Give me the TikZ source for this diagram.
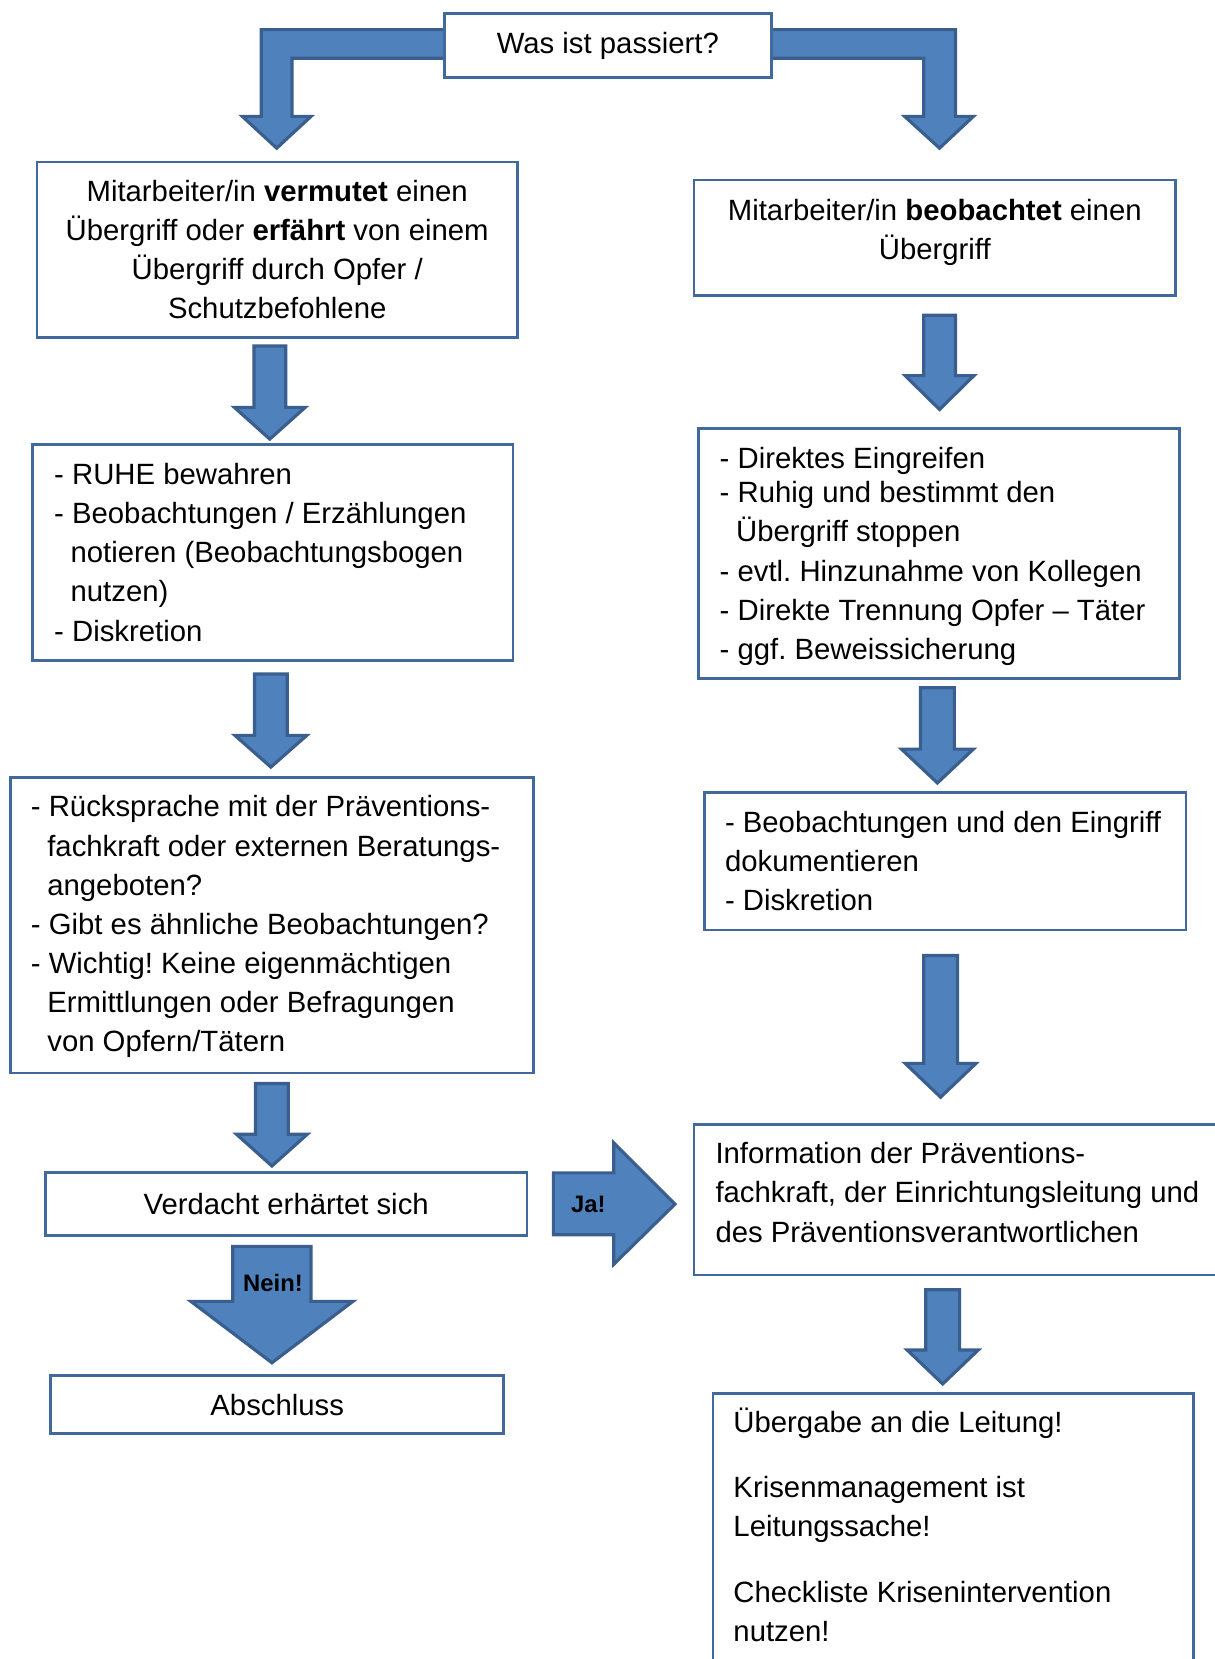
\documentclass[tikz,border=0pt]{standalone}
\usepackage{fontspec}
\setmainfont{Liberation Sans}
\frenchspacing
\definecolor{arrfill}{HTML}{4F81BD}
\definecolor{arrdraw}{HTML}{3A5F8F}
\definecolor{boxc}{HTML}{41699C}
\newcommand\mainfs{\fontsize{11.08}{14.8}\selectfont\frenchspacing}
\newcommand\ind{\hspace*{6.2pt}}
\newcommand\dnarr[6]{% cx, top, head, tip, halfshaft, halfhead
  \draw[blockarrow] ({#1-#5},#2) -- ({#1+#5},#2) -- ({#1+#5},#3) -- ({#1+#6},#3) -- (#1,#4) -- ({#1-#6},#3) -- ({#1-#5},#3) -- cycle;}
\newcommand\frameat[6]{% name, x1,y1,x2,y2, text
  \pgfmathsetmacro\bw{(#4-#2)*0.4}\pgfmathsetmacro\bh{(#5-#3)*0.4}%
  \node[box,minimum width=\bw pt,minimum height=\bh pt] (#1) at ({(#2+#4)/2},{(#3+#5)/2}) {#6};}
\begin{document}
\begin{tikzpicture}[x=0.4pt,y=-0.4pt,
  box/.style={draw=boxc,line width=1pt,fill=white,font=\mainfs,align=center,inner sep=0pt},
  txt/.style={font=\mainfs,align=left,inner sep=0pt},
  blockarrow/.style={fill=arrfill,draw=arrdraw,line width=1.2pt,line join=miter},
  lab/.style={font=\fontsize{9}{10}\selectfont\bfseries,inner sep=0pt}]
\useasboundingbox (0,0) rectangle (1148,1568);

% bent arrows from the top box
\draw[blockarrow] (430,28) -- (247,28) -- (247,110) -- (229,110) -- (261.5,140) -- (294,110) -- (276,110) -- (276,55) -- (430,55) -- cycle;
\draw[blockarrow] (720,28) -- (903,28) -- (903,110) -- (920,110) -- (888,140) -- (855,110) -- (873,110) -- (873,55) -- (720,55) -- cycle;
\frameat{top}{420}{13}{729}{73}{Was ist passiert?}

% left column
\frameat{l1}{35}{153}{489}{319}{Mitarbeiter/in \textbf{vermutet} einen\\ Übergriff oder \textbf{erfährt} von einem\\ Übergriff durch Opfer /\\ Schutzbefohlene}
\dnarr{255}{327}{385}{415}{15}{33.5}
\frameat{l2}{31}{420}{485}{624}{}
\node[txt,anchor=west] (l2t) at ([xshift=8.4pt]l2.west) {- RUHE bewahren\\- Beobachtungen / Erzählungen\\\ind notieren (Beobachtungsbogen\\\ind nutzen)\\- Diskretion};
\dnarr{256}{637}{695}{725}{15.5}{34}
\frameat{l3}{10}{735}{504}{1014}{}
\node[txt,anchor=west] (l3t) at ([xshift=8pt,yshift=-0.6pt]l3.west) {- Rücksprache mit der Präventions-\\\ind fachkraft oder externen Beratungs-\\\ind angeboten?\\- Gibt es ähnliche Beobachtungen?\\- Wichtig! Keine eigenmächtigen\\\ind Ermittlungen oder Befragungen\\\ind von Opfern/Tätern};
\dnarr{257}{1024}{1072}{1102}{15.5}{33.5}
\frameat{l4}{43}{1108}{498}{1168}{Verdacht erhärtet sich}
\dnarr{257}{1178}{1230}{1288}{37}{76.5}
\node[lab] (nein) at (258,1213) {Nein!};
\frameat{l5}{48}{1300}{476}{1355}{Abschluss}

% Ja arrow
\draw[blockarrow] (523,1108.5) -- (580,1108.5) -- (580,1080) -- (638,1138) -- (580,1195) -- (580,1167) -- (523,1167) -- cycle;
\node[lab] (ja) at (556,1138) {Ja!};

% right column
\frameat{r1}{656}{170}{1111}{279}{}
\node[font=\mainfs,align=center,inner sep=0pt] (r1t) at ([yshift=2pt]r1.center) {Mitarbeiter/in \textbf{beobachtet} einen\\ Übergriff};
\dnarr{888}{298}{355}{387}{15}{32.5}
\frameat{r2}{660}{405}{1115}{641}{}
\node[txt,anchor=west] (r2t) at ([xshift=8.4pt,yshift=-1.2pt]r2.west) {- Direktes Eingreifen\\[-2pt]- Ruhig und bestimmt den\\\ind Übergriff stoppen\\- evtl. Hinzunahme von Kollegen\\- Direkte Trennung Opfer – Täter\\- ggf. Beweissicherung};
\dnarr{886}{650}{708}{740}{16}{34}
\frameat{r3}{666}{749}{1121}{879}{}
\node[txt,anchor=west] (r3t) at ([xshift=8pt]r3.west) {- Beobachtungen und den Eingriff\\dokumentieren\\- Diskretion};
\dnarr{889}{903}{1005}{1037}{16}{33.5}
\frameat{r4}{656}{1063}{1175}{1205}{}
\node[txt,anchor=west] (r4t) at ([xshift=8.4pt,yshift=2.8pt]r4.west) {Information der Präventions-\\fachkraft, der Einrichtungsleitung und\\des Präventionsverantwortlichen};
\dnarr{891}{1219}{1276}{1308}{16}{33.5}
\frameat{r5}{674}{1317}{1128}{1600}{}
\node[txt,anchor=north west] (r5t) at ([xshift=8pt,yshift=-5.6pt]r5.north west) {Übergabe an die Leitung!\\[10pt]Krisenmanagement ist\\Leitungssache!\\[10pt]Checkliste Krisenintervention\\nutzen!};
\end{tikzpicture}
\end{document}
